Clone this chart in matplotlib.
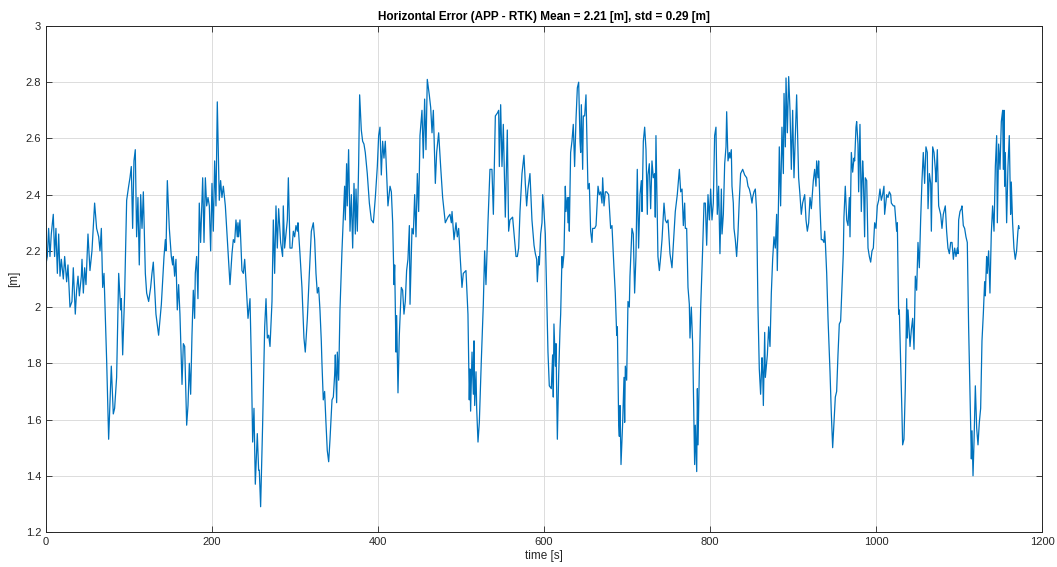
import matplotlib
matplotlib.use("Agg")
import matplotlib.pyplot as plt

plt.rcParams['font.family'] = ['Liberation Sans', 'DejaVu Sans']

title_text = "Horizontal Error (APP - RTK) Mean = 2.21 [m], std = 0.29 [m]"
x_label = "time [s]"
y_label = "[m]"
x_ticks = [0, 200, 400, 600, 800, 1000, 1200]
y_ticks = [1.2, 1.4, 1.6, 1.8, 2.0, 2.2, 2.4, 2.6, 2.8, 3.0]
y_tick_labels = ["1.2", "1.4", "1.6", "1.8", "2", "2.2", "2.4", "2.6", "2.8", "3"]

time_s = [
    0, 1.6, 3.2, 4.8, 6.4, 8.8, 10.4, 12, 13.7, 15.3, 16.9, 18.5, 20.9, 22.5, 24.9, 26.5,
    28.9, 31.3, 32.9, 35.3, 36.9, 38.6, 40.2, 42.6, 43.4, 45, 46.6, 48.2, 50.6, 53, 55.4,
    58.6, 61, 63.5, 65.1, 66.7, 68.3, 69.9, 73.1, 75.5, 78.7, 81.1, 82.7, 85.1, 87.6, 90,
    90.8, 92.4, 94.8, 97.2, 99.6, 101.2, 102.8, 104.4, 106, 107.6, 109.2, 110.8, 112.4,
    114.1, 115.7, 117.3, 119.7, 121.3, 123.7, 126.1, 127.7, 129.3, 132.5, 135.7, 139,
    142.2, 143.8, 144.6, 146.2, 148.6, 151, 152.6, 153.4, 155, 156.6, 158.2, 159.8, 161.4,
    163.9, 165.5, 167.1, 169.5, 171.1, 172.7, 174.3, 175.9, 177.5, 179.1, 179.9, 181.5,
    183.1, 184.7, 186.3, 188.8, 190.4, 192, 193.6, 195.2, 196.8, 198.4, 200, 201.6, 203.2,
    204.8, 206.4, 208.8,
    210.4, 212, 213.7, 216.1, 218.5, 220.9, 221.7, 224.1, 225.7, 227.3, 228.9, 230.5,
    231.3, 232.1, 233.7, 236.1, 237.8, 239.4, 241, 243.4, 245.8, 247.4, 249, 250.6, 252.2,
    254.6, 256.2, 257, 258.6, 261, 263.5, 265.1, 266.7, 268.3, 269.9, 272.3, 273.9, 275.5,
    277.1, 278.7, 280.3, 282.7, 285.1, 285.9, 287.5, 289.2, 290.8, 292, 294, 296.4, 298,
    299.6, 301.2, 302.8, 303.6, 306, 308.4, 310.8, 312.4, 314.9, 317.3, 319.7, 322.1,
    323.7, 325.3, 326.9, 328.5, 330.1, 331.7, 332.5, 334.1, 335.7, 337.3, 338.9, 340.6,
    342.2, 344.6, 346.2, 347.8, 348.6, 350.2, 351, 352.6, 354.2, 356.6, 359.8, 360.6,
    362.2, 363, 364.6, 366.3, 367.9, 369.5, 371.1, 372.7, 373.5, 375.1, 376.7, 377.9,
    379.9, 381.5, 383.1, 384.7, 387.1, 389.6, 392, 394.4, 396.8, 399.2, 400.8, 402.4, 404,
    405.6, 407.2, 408.8, 412, 414.5,
    416.1, 417.7, 419.3, 420.1, 421.7, 422.5, 424.1, 425.7, 428.1, 429.7, 431.3, 432.9,
    434.5, 436.1, 437.8, 438.6, 441, 442.6, 444.2, 445.8, 447.4, 449, 450.6, 453, 454.6,
    456.2, 457.8, 459.4, 461.8, 463.5, 465.1, 466.7, 469.1, 470.7, 473.1, 475.5, 477.9,
    481.1, 484.3, 486.7, 488.4, 489.2, 491.6, 494, 495.6, 497.2, 498.8, 501.2, 502.8, 506,
    508.4, 510, 510.8, 511.6, 513.3, 514.9, 515.7, 516.5, 518.1, 518.9, 520.5, 522.1,
    524.5, 526.9, 528.5, 530.1, 532.5, 534.9, 537.3, 539, 541.4, 543.8, 545.4, 546.2,
    547.8, 549.4, 551, 553.4, 555.8, 557.4, 559, 562.2, 563.9, 566.3, 567.9, 569.5, 571.1,
    573.5, 575.9, 577.5, 579.1, 580.7, 583.1, 585.5, 588, 589.6, 591.2, 592, 593.6, 594.4,
    596, 597.6, 598.4, 600, 601.6, 603.2, 604.8, 606.4, 608.8, 610.4, 611.2, 612, 613.7,
    614.5, 616.1, 617.7, 619.3,
    620.1, 621.7, 622.5, 624.1, 625.7, 626.5, 628.1, 628.9, 629.7, 630.5, 632.1, 633.7,
    635.3, 636.9, 638.6, 640.2, 641.8, 643.4, 644.2, 645, 646.6, 647.4, 649, 650.6, 653,
    654.6, 656.2, 657.8, 658.6, 661, 662.7, 665.1, 666.7, 668.3, 669.9, 670.7, 672.3,
    673.9, 675.5, 677.9, 680.3, 681.9, 684.3, 685.9, 687.6, 688.4, 690, 690.8, 691.6,
    692.8, 694.8, 696.4, 697.2, 698, 699.6, 701.2, 702.8, 703.6, 706, 707.6, 709.2, 710.8,
    712.4, 714, 715.7, 717.3, 718.1, 719.7, 721.3, 722.9, 724.5, 725.3, 726.9, 728.5,
    730.1, 731.7, 733.3, 734.1, 734.9, 737.3, 739, 740.6, 742.2, 744.6, 746.2, 747.8,
    749.4, 751.8, 754.2, 756.6, 758.2, 760.6, 763.1, 764.7, 766.3, 767.9, 769.5, 770.3,
    771.9, 773.5, 775.1, 775.9, 777.5, 779.1, 780.7, 781.5, 782.3, 784, 784.8, 785.6,
    787.2, 788.8, 791.2, 792.8, 794.4, 796, 797.6, 799.2, 800.8, 802.4, 804, 805.6, 807.2,
    808.8, 810.4, 812, 813.7, 814.5, 816.1, 817.7, 819.3, 820.1, 821.7, 823.3,
    824.1, 825.7, 826.5, 828.1, 828.9, 830.5, 832.1, 833.7, 835.3, 836.9, 839.4, 841.8,
    844.2, 845.8, 847.4, 849, 850.6, 851.4, 853, 854.6, 856.2, 857.8, 859.4, 861, 862.7,
    863.5, 864.3, 865.9, 866.7, 869.1, 870.7, 872.3, 873.9, 875.5, 877.1, 878.7, 880.3,
    881.1, 882.7, 883.5, 885.1, 886.7, 888.4, 889.2, 890.8, 891.6, 893.2, 894.8, 896.4,
    898, 899.6, 901.2, 902.8, 904.4, 906.8, 908.4, 910, 911.6, 914.1, 915.7, 917.3, 918.9,
    920.5, 922.1, 924.5, 926.1, 927.7, 928.5, 930.1, 930.9, 932.5, 934.1, 935.7, 937.3,
    938.2, 939, 940.6, 942.2, 944.6, 946.2, 947.8, 949.4, 951, 952.6, 954.2, 955.8, 957.4,
    959, 960.6, 961.4, 963, 964.7, 966.3, 967.9, 968.7, 970.3, 971.9, 973.5, 974.3, 975.9,
    976.7, 978.3, 979.1, 980.7, 982.3, 983.9, 984.7, 986.3, 987.1, 988.8, 990.4, 992,
    993.6, 995.2, 996.8, 998.4, 1000, 1001.6, 1003.2, 1004.8, 1006.4, 1008, 1009.6,
    1010.4, 1012.9, 1014.5, 1016.1, 1017.7, 1018.5,
    1020.9, 1022.5, 1024.1, 1024.9, 1025.7, 1027.3, 1028.1, 1029.7, 1031.3, 1032.1,
    1033.7, 1035.3, 1037, 1037.8, 1038.6, 1040.2, 1041, 1042.6, 1044.2, 1045.8, 1047.4,
    1049, 1050.6, 1052.2, 1053.8, 1055.4, 1057, 1058.6, 1060.2, 1061.8, 1062.7, 1064.3,
    1065.9, 1066.7, 1068.3, 1069.9, 1071.5, 1072.3, 1073.9, 1075.5, 1077.9, 1079.5,
    1081.1, 1083.5, 1085.1, 1086.7, 1088.4, 1090, 1091.6, 1093.2, 1094.8, 1096.4, 1098,
    1098.8, 1099.6, 1101.2, 1102.8, 1103.6, 1105.2, 1106.8, 1108.4, 1110, 1111.6, 1113.3,
    1114.9, 1115.7, 1116.9, 1118.1, 1119.7, 1121.3, 1122.9, 1124.5, 1126.1, 1127.7,
    1129.3, 1130.9, 1131.7, 1133.3, 1134.1, 1135.7, 1137.3, 1138.9, 1140.5, 1142.2,
    1143.8, 1145.4, 1146.2, 1147.8, 1149.4, 1151, 1152.6, 1153.4, 1154.2, 1155, 1155.8,
    1157.4, 1159, 1160.6, 1162.2, 1163, 1164.6, 1166.2, 1167.8, 1169.4, 1171, 1171.8,
    1172.6,
]

error_m = [
    2.154, 2.18, 2.28, 2.18, 2.26, 2.33, 2.18, 2.28, 2.12, 2.26, 2.11, 2.17, 2.10, 2.18, 2.09, 2.15,
    2.00, 2.02, 2.14, 1.975, 2.06, 2.11, 2.04, 2.11, 2.17, 2.05, 2.14, 2.08, 2.26, 2.13, 2.20,
    2.37, 2.28, 2.25, 2.20, 2.28, 2.07, 2.12, 1.81, 1.53, 1.79, 1.62, 1.64, 1.75, 2.12, 1.99,
    2.03, 1.83, 2.05, 2.38, 2.43, 2.46, 2.50, 2.28, 2.52, 2.56, 2.25, 2.39, 2.15,
    2.40, 2.28, 2.41, 2.12, 2.05, 2.02, 2.07, 2.12, 2.16, 1.975, 1.90, 2.01,
    2.18, 2.24, 2.20, 2.45, 2.28, 2.18, 2.15, 2.18, 2.11, 2.17, 1.99, 2.08, 1.975,
    1.725, 1.87, 1.86, 1.58, 1.65, 1.80, 1.69, 1.90, 2.06, 1.96, 2.12, 2.18,
    2.03, 2.37, 2.23, 2.46, 2.23, 2.46, 2.36, 2.39, 2.36, 2.20, 2.44, 2.27, 2.52,
    2.36, 2.73, 2.38,
    2.45, 2.39, 2.43, 2.36, 2.24, 2.12, 2.08, 2.19, 2.24, 2.23, 2.31, 2.25,
    2.30, 2.25, 2.31, 2.13, 2.12, 2.17, 2.09, 1.96, 2.03, 1.81, 1.52, 1.64, 1.37,
    1.55, 1.42, 1.42, 1.29, 1.58, 1.93, 2.03, 1.89, 1.90, 1.86, 2.02, 2.31, 2.12,
    2.36, 2.21, 2.35, 2.23, 2.18, 2.36, 2.21, 2.26, 2.31, 2.46, 2.21, 2.21, 2.27,
    2.25, 2.29, 2.27, 2.30, 2.19, 2.07, 1.89, 1.84, 1.96, 2.12, 2.27, 2.30,
    2.24, 2.12, 2.05, 2.07, 1.99, 1.88, 1.80, 1.67, 1.70, 1.59, 1.49, 1.45,
    1.53, 1.67, 1.68, 1.76, 1.83, 1.66, 1.84, 1.74, 1.99, 2.20, 2.43, 2.31,
    2.51, 2.36, 2.56, 2.27, 2.40, 2.21, 2.44, 2.26, 2.42, 2.27, 2.51, 2.755,
    2.63, 2.59, 2.58, 2.55, 2.475, 2.37, 2.31, 2.30, 2.39, 2.50, 2.61, 2.64, 2.47,
    2.59, 2.53, 2.59, 2.36, 2.43,
    2.41, 2.30, 2.08, 2.15, 1.84, 1.97, 1.695, 1.90, 2.07, 2.06, 1.975, 2.02,
    2.13, 2.17, 2.29, 2.01, 2.28, 2.26, 2.40, 2.25, 2.475, 2.34, 2.61, 2.70, 2.53,
    2.74, 2.56, 2.81, 2.755, 2.71, 2.62, 2.70, 2.44, 2.55, 2.62, 2.50, 2.39,
    2.30, 2.32, 2.33, 2.30, 2.34, 2.24, 2.30, 2.25, 2.28, 2.19, 2.07, 2.12, 2.13,
    1.975, 1.67, 1.78, 1.63, 1.84, 1.69, 1.88, 1.65, 1.77, 1.64, 1.52, 1.59,
    1.81, 2.01, 2.20, 2.08, 2.30, 2.49, 2.49, 2.33, 2.68, 2.69, 2.70, 2.50,
    2.72, 2.50, 2.65, 2.32, 2.63, 2.27, 2.31, 2.32, 2.26, 2.18, 2.18, 2.21, 2.34,
    2.475, 2.54, 2.44, 2.36, 2.42, 2.475, 2.31, 2.22, 2.19, 2.17, 2.09, 2.18, 2.15,
    2.26, 2.30, 2.40, 2.34, 2.26, 2.05, 1.84, 1.72, 1.71, 1.83, 1.68, 1.94, 1.79,
    1.87, 1.53, 1.76, 1.92,
    1.975, 2.18, 2.14, 2.19, 2.43, 2.34, 2.39, 2.30, 2.39, 2.27, 2.55, 2.59,
    2.65, 2.50, 2.67, 2.78, 2.80, 2.59, 2.55, 2.72, 2.49, 2.68, 2.68, 2.755, 2.42,
    2.44, 2.27, 2.23, 2.28, 2.28, 2.29, 2.43, 2.40, 2.41, 2.37, 2.46, 2.36,
    2.41, 2.41, 2.40, 2.28, 2.29, 2.14, 2.05, 1.90, 1.93, 1.58, 1.54, 1.65,
    1.44, 1.59, 1.75, 1.59, 1.79, 1.74, 2.02, 2.00, 2.11, 2.28, 2.26, 2.05, 2.18,
    2.49, 2.21, 2.40, 2.45, 2.34, 2.59, 2.64, 2.56, 2.33, 2.47, 2.51, 2.35,
    2.52, 2.46, 2.475, 2.32, 2.61, 2.18, 2.13, 2.18, 2.24, 2.37, 2.31, 2.30,
    2.31, 2.19, 2.14, 2.26, 2.34, 2.40, 2.49, 2.41, 2.42, 2.29, 2.37, 2.28,
    2.28, 2.07, 2.01, 1.89, 2.00, 1.87, 1.57, 1.44, 1.58, 1.415, 1.71, 1.51,
    1.78, 2.00, 2.21, 2.37, 2.37, 2.22, 2.40, 2.31, 2.42, 2.31, 2.37, 2.61, 2.64,
    2.33, 2.43, 2.19, 2.42, 2.26, 2.33, 2.51, 2.57, 2.695, 2.52, 2.55,
    2.53, 2.56, 2.43, 2.37, 2.28, 2.24, 2.18, 2.26, 2.38, 2.475, 2.49, 2.47,
    2.46, 2.43, 2.42, 2.40, 2.37, 2.39, 2.41, 2.42, 2.34, 2.00, 1.78, 1.69, 1.82,
    1.77, 1.65, 1.91, 1.75, 1.83, 1.93, 1.86, 2.05, 2.17, 2.25, 2.21, 2.33,
    2.13, 2.40, 2.57, 2.36, 2.64, 2.475, 2.76, 2.57, 2.815, 2.62, 2.82, 2.70,
    2.49, 2.70, 2.46, 2.61, 2.755, 2.46, 2.40, 2.33, 2.37, 2.40, 2.31, 2.27, 2.30,
    2.39, 2.35, 2.45, 2.49, 2.43, 2.52, 2.46, 2.52, 2.36, 2.24, 2.24, 2.23,
    2.27, 2.23, 2.12, 1.96, 1.77, 1.62, 1.50, 1.59, 1.68, 1.70, 1.83, 1.94, 1.95,
    2.07, 2.19, 2.32, 2.43, 2.31, 2.29, 2.39, 2.25, 2.55, 2.48, 2.53, 2.52, 2.64,
    2.66, 2.58, 2.41, 2.65, 2.34, 2.52, 2.475, 2.25, 2.46, 2.45, 2.21, 2.18,
    2.16, 2.20, 2.21, 2.30, 2.28, 2.36, 2.38, 2.42, 2.38, 2.40, 2.43,
    2.33, 2.40, 2.39, 2.41, 2.40, 2.37,
    2.36, 2.36, 2.30, 2.27, 2.30, 1.975, 1.99, 1.81, 1.62, 1.51,
    1.53, 1.71, 2.03, 1.89, 1.99, 1.90, 1.86, 1.92, 1.96, 1.85, 2.11,
    2.06, 2.23, 2.14, 2.31, 2.45, 2.55, 2.44, 2.57, 2.55, 2.35, 2.475,
    2.44, 2.27, 2.57, 2.55, 2.49, 2.445, 2.56, 2.36, 2.33, 2.28,
    2.33, 2.36, 2.27, 2.21, 2.19, 2.23, 2.23, 2.17, 2.21, 2.18, 2.21,
    2.19, 2.31, 2.34, 2.35, 2.36, 2.29, 2.28, 2.25, 2.23, 1.93, 1.69,
    1.46, 1.56, 1.40, 1.52, 1.72, 1.57, 1.51, 1.59, 1.64, 1.88,
    1.975, 2.09, 2.04, 2.18, 2.12, 2.20, 2.05, 2.26, 2.36, 2.27,
    2.50, 2.61, 2.30, 2.58, 2.49, 2.66, 2.70, 2.49, 2.70, 2.43, 2.55,
    2.30, 2.50, 2.61, 2.33, 2.445, 2.30, 2.21, 2.17, 2.20, 2.27, 2.29,
    2.28,
]

fig = plt.figure(figsize=(10.57, 5.67), dpi=100)
ax = fig.add_axes([0.0435, 0.0617, 0.9423, 0.8925])
ax.plot(time_s, error_m, color='#0072BD', linewidth=0.9)

ax.set_xlim(0, 1200)
ax.set_ylim(1.2, 3.0)
ax.set_xticks(x_ticks)
ax.set_xticklabels([str(v) for v in x_ticks])
ax.set_yticks(y_ticks)
ax.set_yticklabels(y_tick_labels)
ax.tick_params(direction='in', length=4, width=0.6, labelsize=8, colors='#262626',
               top=True, right=True)
ax.grid(True, color='#dcdcdc', linewidth=0.7)
ax.set_axisbelow(True)
for s in ax.spines.values():
    s.set_linewidth(0.7)
    s.set_color('#262626')

ax.set_title(title_text, fontsize=8.5, fontweight='bold', pad=4)
ax.set_xlabel(x_label, fontsize=8.5, labelpad=2, color='#262626')
ax.set_ylabel(y_label, fontsize=8.5, labelpad=4, color='#262626')

fig.savefig("out.png", dpi=100)
print(len(time_s), len(error_m))
